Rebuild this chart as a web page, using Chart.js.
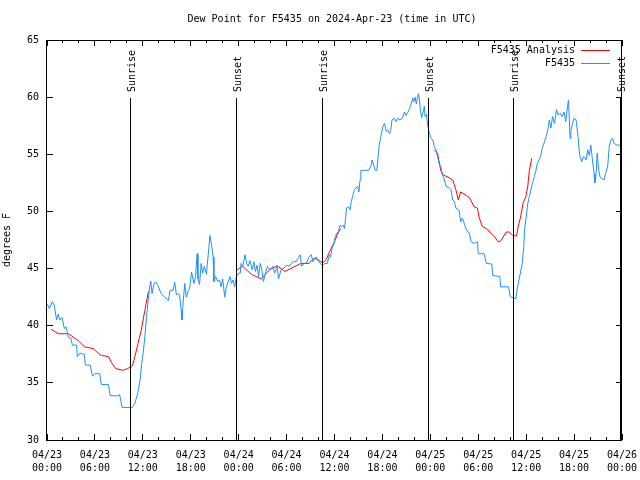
<!DOCTYPE html>
<html>
<head>
<meta charset="utf-8">
<script src="https://cdn.jsdelivr.net/npm/chart.js@4/dist/chart.umd.min.js"></script>
<style>
  html, body { margin: 0; padding: 0; background: #fff; }
</style>
</head>
<body>
<canvas id="chart" width="640" height="480"></canvas>
<script>
const FONT = "'DejaVu Sans Mono', monospace";

// hours since 04/23 00:00 UTC
const stationHours = [
  0.05, 0.3, 0.67, 0.9, 1.2, 1.4, 1.6, 1.9, 2.17, 2.4, 2.67, 3.0, 3.17, 3.7, 3.8, 4.1, 4.67, 4.8, 5.4, 5.7,
  6.0, 6.6, 6.8, 7.7, 7.9, 8.7, 9.1, 9.4, 10.67, 11.0, 11.4, 11.7, 11.85, 12.04, 12.25, 12.46, 12.67, 12.875, 13.0, 13.15,
  13.4, 13.7, 13.9, 14.3, 14.75, 15.2, 15.4, 15.8, 16.0, 16.2, 16.4, 16.6, 16.8, 16.9, 17.0, 17.25, 17.45, 17.65, 17.85, 18.1,
  18.4, 18.6, 18.8, 18.9, 19.1, 19.3, 19.5, 19.7, 19.96, 20.2, 20.4, 20.6, 20.8, 20.9, 21.1, 21.4, 21.6, 21.8, 22.0, 22.25,
  22.45, 22.7, 22.9, 23.1, 23.3, 23.5, 23.7, 24.0, 24.2, 24.3, 24.5, 24.8, 25.0, 25.2, 25.4, 25.7, 25.9, 26.1, 26.3, 26.5,
  26.7, 26.9, 27.1, 27.35, 27.6, 27.9, 28.3, 28.5, 28.8, 29.0, 29.3, 29.7, 30.0, 30.3, 30.6, 30.9, 31.2, 31.5, 31.7, 31.9,
  32.2, 32.5, 32.8, 33.1, 33.3, 33.5, 33.7, 34.0, 34.2, 34.5, 34.8, 35.1, 35.35, 35.5, 35.7, 35.9, 36.1, 36.3, 36.5, 36.7,
  36.9, 37.1, 37.25, 37.4, 37.5, 37.75, 37.96, 38.1, 38.3, 38.5, 38.7, 38.9, 39.05, 39.2, 39.3, 40.3, 40.6, 40.7, 40.85, 41.1,
  41.3, 41.5, 41.6, 41.8, 42.05, 42.25, 42.5, 42.7, 42.9, 43.05, 43.2, 43.45, 43.7, 43.9, 44.2, 44.5, 44.75, 44.95, 45.2, 45.4,
  45.6, 45.8, 45.95, 46.1, 46.25, 46.4, 46.5, 46.6, 46.75, 46.9, 47.1, 47.25, 47.35, 47.5, 47.7, 47.9, 48.1, 48.3, 48.5, 48.7,
  48.9, 49.1, 49.3, 49.5, 49.7, 49.96, 50.3, 50.6, 50.8, 51.0, 51.2, 51.6, 51.8, 52.0, 52.25, 52.5, 52.7, 52.9, 53.1, 53.5,
  53.9, 54.0, 54.75, 55.0, 55.7, 55.8, 56.7, 56.8, 57.8, 58.0, 58.7, 58.9, 59.1, 59.3, 59.5, 59.7, 59.8, 60.0, 60.2, 60.4,
  60.7, 61.0, 61.2, 61.4, 61.8, 62.0, 62.2, 62.5, 62.7, 62.9, 63.1, 63.3, 63.55, 63.8, 64.0, 64.3, 64.5, 64.75, 64.95, 65.2,
  65.3, 65.5, 65.6, 65.8, 66.0, 66.25, 66.5, 66.7, 66.96, 67.2, 67.5, 67.7, 67.9, 68.1, 68.3, 68.5, 68.6, 68.75, 68.9, 69.05,
  69.25, 69.75, 69.95, 70.2, 70.4, 70.6, 70.8, 71.0, 71.4, 71.9
];
const stationDew = [
  41.9, 41.5, 42.1, 41.8, 40.5, 41.0, 40.5, 40.7, 39.75, 39.9, 39.0, 38.9, 38.3, 38.3, 37.3, 37.6, 37.5, 36.55, 36.55, 35.6,
  35.8, 35.8, 34.85, 34.85, 33.9, 33.85, 33.95, 32.85, 32.85, 33.2, 34.2, 35.5, 36.7, 37.6, 39.0, 40.8, 42.2, 43.5, 43.9, 42.8,
  43.7, 43.8, 43.5, 42.8, 42.5, 42.2, 43.1, 43.1, 43.8, 42.7, 42.8, 42.7, 41.35, 40.5, 41.6, 43.7, 42.5, 43.0, 43.25, 44.7,
  43.7, 44.3, 46.3, 44.1, 43.6, 45.45, 44.6, 45.2, 44.5, 46.3, 47.9, 47.1, 46.0, 43.86, 44.3, 43.86, 44.0, 43.4, 44.1, 42.5,
  43.4, 43.86, 44.3, 43.7, 44.0, 43.4, 44.3, 44.6, 44.6, 45.45, 45.2, 46.2, 45.45, 45.2, 45.7, 44.9, 45.6, 44.75, 45.3, 44.3,
  45.45, 44.9, 43.86, 44.6, 45.2, 44.9, 45.2, 44.6, 45.2, 44.1, 44.9, 45.05, 45.3, 45.2, 45.45, 45.6, 45.6, 46.0, 46.2, 45.2,
  45.45, 45.5, 46.0, 46.2, 45.6, 45.9, 46.0, 45.6, 45.45, 45.3, 45.45, 45.45, 46.2, 46.0, 46.8, 47.1, 47.8, 48.1, 48.25, 48.8,
  48.65, 48.8, 48.5, 49.5, 50.3, 50.4, 50.15, 50.85, 51.4, 51.9, 52.05, 52.2, 51.7, 52.75, 53.6, 53.6, 54.05, 54.5, 54.2, 53.6,
  53.6, 55.1, 55.8, 56.55, 57.4, 57.7, 57.0, 57.1, 56.8, 57.1, 58.0, 58.15, 57.85, 58.15, 58.0, 58.15, 58.7, 58.4, 58.7, 59.0,
  59.4, 59.9, 59.6, 60.0, 59.4, 60.0, 60.3, 60.0, 58.9, 58.2, 58.7, 59.2, 58.3, 58.5, 57.4, 56.8, 56.4, 56.25, 55.65, 55.4,
  54.8, 54.2, 54.0, 53.2, 52.9, 52.2, 52.1, 51.9, 51.0, 50.9, 50.3, 50.1, 49.1, 49.4, 48.96, 48.4, 48.2, 48.1, 47.35, 47.2,
  47.35, 46.3, 46.3, 45.45, 45.4, 44.4, 44.3, 43.4, 43.4, 42.55, 42.35, 43.3, 44.0, 44.7, 45.45, 46.9, 48.4, 49.5, 50.7, 51.3,
  52.2, 53.0, 53.5, 54.2, 54.8, 55.5, 55.9, 56.55, 57.1, 58.0, 57.3, 58.3, 57.7, 58.9, 58.45, 58.6, 58.3, 58.7, 57.85, 59.3,
  59.75, 56.4, 57.1, 57.7, 58.15, 58.0, 56.55, 54.9, 54.35, 54.8, 54.5, 55.4, 54.9, 55.8, 54.5, 53.3, 52.5, 53.3, 55.1, 53.8,
  53.0, 52.75, 53.3, 53.9, 55.65, 56.25, 56.4, 55.95, 55.8, 55.8
];

// analysis series, null marks a gap
const analysisHours = [
  0.5, 1.4, 2.67, 3.3, 3.9, 4.7, 5.8, 6.4, 6.8, 7.7, 8.1, 8.6, 9.5, 10.1, 10.7, 11.0, 11.4, 11.8, 12.25, 12.7,
  18.0,
  23.8, 24.5, 25.6, 26.8, 27.9, 28.8, 29.8, 30.8, 31.8, 32.8, 33.4, 33.9, 34.5, 34.9, 35.4, 35.9, 36.5, 36.8,
  42.0,
  48.5, 48.9, 49.3, 49.6, 50.2, 50.8, 51.2, 51.5, 51.8, 52.5, 52.9, 53.5, 53.9, 54.1, 54.5, 55.0, 55.6, 56.0, 56.5, 56.8,
  57.5, 57.9, 58.3, 58.8, 59.0, 59.3, 59.6, 59.96, 60.2, 60.4, 60.7
];
const analysisDew = [
  39.7, 39.3, 39.3, 39.0, 38.7, 38.15, 38.0, 37.6, 37.4, 37.3, 36.75, 36.25, 36.1, 36.25, 36.5, 37.3, 38.45, 39.6, 41.35, 43.0,
  null,
  44.9, 45.2, 44.5, 44.1, 44.9, 45.25, 44.75, 45.1, 45.45, 45.45, 45.9, 45.8, 45.5, 45.7, 46.5, 47.2, 48.2, 48.5,
  null,
  55.4, 55.1, 53.6, 53.2, 53.0, 52.75, 51.9, 51.0, 51.7, 51.4, 51.2, 50.4, 50.3, 49.5, 48.7, 48.5, 48.1, 47.8, 47.35, 47.4,
  48.2, 48.2, 47.9, 47.85, 48.7, 49.5, 50.7, 51.3, 52.2, 53.6, 54.65
];

const sunHours = [10.47, 23.7, 34.45, 47.75, 58.42, 71.8];
const sunLabels = ['Sunrise', 'Sunset', 'Sunrise', 'Sunset', 'Sunrise', 'Sunset'];

const xTickLabels = [
  ['04/23', '00:00'], ['04/23', '06:00'], ['04/23', '12:00'], ['04/23', '18:00'],
  ['04/24', '00:00'], ['04/24', '06:00'], ['04/24', '12:00'], ['04/24', '18:00'],
  ['04/25', '00:00'], ['04/25', '06:00'], ['04/25', '12:00'], ['04/25', '18:00'],
  ['04/26', '00:00']
];

const seriesNames = ['F5435 Analysis', 'F5435'];
const seriesColors = ['#FF0000', '#1E90FF'];

const toPoints = (xs, ys) => xs.map((x, i) => ({ x, y: ys[i] }));

// gnuplot-like frame: border, inward ticks, sun lines, title and key
const frame = {
  id: 'frame',
  afterDatasetsDraw(chart) {
    const { ctx, chartArea: a, scales: { x, y } } = chart;
    ctx.save();
    ctx.strokeStyle = '#000';
    ctx.fillStyle = '#000';
    ctx.lineWidth = 1;
    ctx.font = `10px ${FONT}`;

    sunHours.forEach((h, i) => {
      const px = Math.floor(x.getPixelForValue(h)) + 0.5;
      ctx.beginPath();
      ctx.moveTo(px, a.top + 58);
      ctx.lineTo(px, a.bottom);
      ctx.stroke();
      ctx.save();
      ctx.translate(px + 2, a.top + 52);
      ctx.rotate(-Math.PI / 2);
      ctx.textAlign = 'left';
      ctx.textBaseline = 'middle';
      ctx.fillText(sunLabels[i], 0, 0);
      ctx.restore();
    });

    ctx.strokeRect(a.left - 0.5, a.top + 0.5, a.right - a.left, a.bottom - a.top);

    ctx.beginPath();
    for (let h = 0; h <= 72; h += 2) {
      const px = Math.floor(x.getPixelForValue(h)) + 0.5;
      const len = h % 6 === 0 ? 6 : 3;
      ctx.moveTo(px, a.bottom); ctx.lineTo(px, a.bottom - len);
      ctx.moveTo(px, a.top); ctx.lineTo(px, a.top + len);
    }
    for (let v = 30; v <= 65; v += 5) {
      const py = Math.floor(y.getPixelForValue(v)) + 0.5;
      ctx.moveTo(a.left, py); ctx.lineTo(a.left + 6, py);
      ctx.moveTo(a.right, py); ctx.lineTo(a.right - 6, py);
    }
    ctx.stroke();

    // key
    ctx.textAlign = 'right';
    ctx.textBaseline = 'middle';
    seriesNames.forEach((name, i) => {
      const ty = a.top + 10 + i * 13;
      ctx.fillStyle = '#000';
      ctx.fillText(name, 575, ty);
      ctx.strokeStyle = seriesColors[i];
      ctx.beginPath();
      ctx.moveTo(581, ty + 0.5);
      ctx.lineTo(610, ty + 0.5);
      ctx.stroke();
    });

    ctx.fillStyle = '#000';
    ctx.textAlign = 'center';
    ctx.fillText('Dew Point for F5435 on 2024-Apr-23 (time in UTC)', 332, 19);
    ctx.restore();
  }
};

new Chart(document.getElementById('chart'), {
  type: 'line',
  data: {
    datasets: [
      {
        label: seriesNames[0],
        data: toPoints(analysisHours, analysisDew),
        borderColor: seriesColors[0],
        borderWidth: 1,
        pointRadius: 0,
        spanGaps: false,
        order: 1,
      },
      {
        label: seriesNames[1],
        data: toPoints(stationHours, stationDew),
        borderColor: seriesColors[1],
        borderWidth: 1,
        pointRadius: 0,
        order: 0,
      },
    ],
  },
  options: {
    responsive: false,
    animation: false,
    layout: {
      padding: { top: 40, right: 18, left: 0, bottom: 0 },
    },
    plugins: {
      legend: { display: false },
      tooltip: { enabled: false },
    },
    scales: {
      x: {
        type: 'linear',
        min: 0,
        max: 72,
        afterFit(scale) {
          scale.height = 40;
          scale.paddingLeft = 0;
          scale.paddingRight = 0;
        },
        grid: { display: false, drawTicks: false },
        border: { display: false },
        ticks: {
          stepSize: 6,
          autoSkip: false,
          maxRotation: 0,
          padding: 9,
          color: '#000',
          font: { family: FONT, size: 10, lineHeight: 1.3 },
          callback: (value, index) => xTickLabels[index],
        },
      },
      y: {
        min: 30,
        max: 65,
        afterFit(scale) {
          scale.width = 47;
          scale.paddingTop = 0;
          scale.paddingBottom = 0;
        },
        grid: { display: false, drawTicks: false },
        border: { display: false },
        title: {
          display: true,
          text: 'degrees F',
          color: '#000',
          padding: { top: 1, bottom: 0 },
          font: { family: FONT, size: 10 },
        },
        ticks: {
          stepSize: 5,
          padding: 8,
          color: '#000',
          font: { family: FONT, size: 10 },
        },
      },
    },
  },
  plugins: [frame],
});
</script>
</body>
</html>
